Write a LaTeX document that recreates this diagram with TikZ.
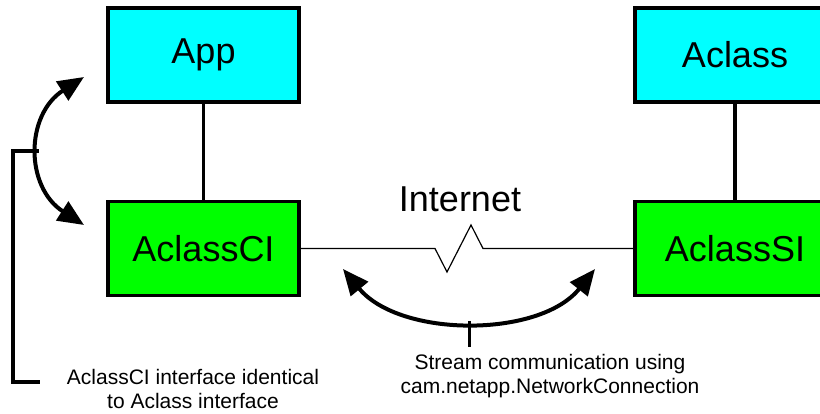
\documentclass[tikz,border=0pt]{standalone}
\usepackage{fontspec}
\setmainfont{Liberation Sans}
\usetikzlibrary{arrows.meta}
\definecolor{boxcyan}{RGB}{0,255,255}
\definecolor{boxgreen}{RGB}{0,255,0}
\begin{document}
\begin{tikzpicture}[x=1pt,y=-1pt,
  box/.style={draw=black, line width=3.5pt, minimum height=94pt, inner sep=0pt,
    font=\fontsize{36}{40}\selectfont},
  topbox/.style={box, fill=boxcyan},
  ifbox/.style={box, fill=boxgreen},
  thickarrow/.style={line width=4pt, {Triangle[length=26pt,width=22pt]}-{Triangle[length=26pt,width=22pt]}},
  small/.style={font=\fontsize{21}{23.5}\selectfont, align=center, inner sep=0pt, anchor=north}
]
\useasboundingbox (0,0) rectangle (820,414);
\clip (0,0) rectangle (820,414);
\fill[white] (0,0) rectangle (820,414);

\node[topbox, minimum width=191pt] (app) at (203.5,55) {App};
\node[ifbox, minimum width=191pt] (ci) at (203.5,248.5) {AclassCI};
\node[topbox, minimum width=200pt] (acl) at (735,55) {Aclass};
\node[ifbox, minimum width=200pt] (si) at (735,248.5) {AclassSI};

\draw[line width=2.5pt] (app) -- (ci);
\draw[line width=4.5pt] (acl) -- (si);

% Internet link with zigzag
\coordinate (z1) at (435,248.5);
\coordinate (z2) at (447,272);
\coordinate (z3) at (471,225);
\coordinate (z4) at (483,248.5);
\draw[line width=1.2pt] (ci.east) -- (z1) -- (z2) -- (z3) -- (z4) -- (si.west);
\node[font=\fontsize{36}{40}\selectfont, anchor=base, inner sep=0pt] (inet) at (460,212) {Internet};

% Left curved arrow and bracket
\coordinate (la) at (84,77);
\coordinate (lb) at (84,225);
\coordinate (lm) at (38.75,151);
\coordinate (bk1) at (13,151);
\coordinate (bk2) at (13,382);
\coordinate (bk3) at (40,382);
\draw[thickarrow] (la) .. controls (25,115) and (25,187) .. (lb);
\draw[line width=3.5pt] (lm) -- (bk1) -- (bk2) -- (bk3);
\node[small] (note1) at (193,369.5) {AclassCI interface identical\\to Aclass interface};

% Bottom curved arrow and stem
\coordinate (ba) at (343,269);
\coordinate (bb) at (595,269);
\coordinate (bm) at (469.5,321);
\coordinate (bs) at (469.5,347);
\draw[thickarrow] (ba) .. controls (400,338) and (540,338) .. (bb);
\draw[line width=3.5pt] (bm) -- (bs);
\node[small] (note2) at (550,354.5) {Stream communication using\\cam.netapp.NetworkConnection};
\end{tikzpicture}
\end{document}
